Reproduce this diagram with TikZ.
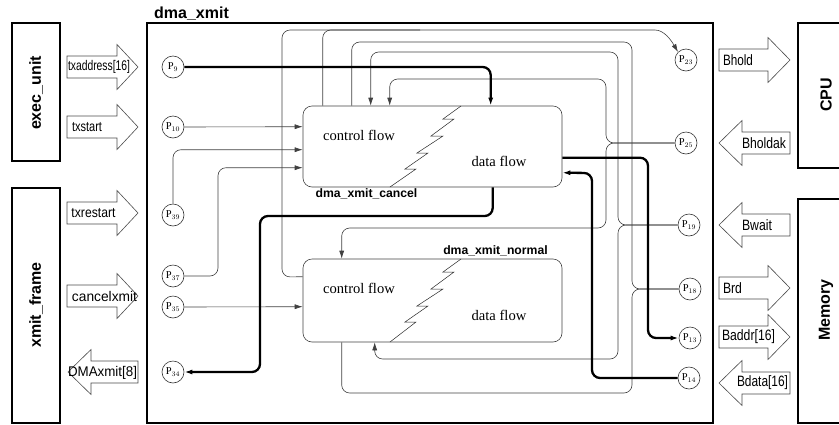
\documentclass[tikz,border=0pt]{standalone}
\usepackage{fontspec}
\setmainfont{Liberation Serif}
\setsansfont{Liberation Sans}
\usetikzlibrary{arrows.meta}
\newcommand{\fitw}[2]{\resizebox{#1pt}{\height}{#2}}
\newcommand{\rblk}[4]{\draw[blk] (#1,#4-11) -- (#2,#4-11) -- (#2,#4-22.5) -- (#3,#4) -- (#2,#4+22.5) -- (#2,#4+11) -- (#1,#4+11) -- cycle;}
\newcommand{\lblk}[4]{\draw[blk] (#3,#4-11) -- (#2,#4-11) -- (#2,#4-22.5) -- (#1,#4) -- (#2,#4+22.5) -- (#2,#4+11) -- (#3,#4+11) -- cycle;}
\newcommand{\zig}[2]{\draw[zz] (461,#1) -- (443,#1+13) -- (454,#1+13) -- (431,#1+30) -- (443,#1+30) -- (417,#1+47) -- (428,#1+47) -- (405,#1+63) -- (416,#1+63) -- (390,#2);}
\begin{document}
\begin{tikzpicture}[x=1pt,y=-1pt,
  frame/.style={draw=black, line width=1.1pt},
  blk/.style={draw=black!70, line width=0.6pt, fill=white},
  zz/.style={draw=black!85, line width=0.5pt},
  inbox/.style={draw=black!75, line width=0.6pt, rounded corners=9pt, minimum width=259pt, minimum height=81pt, inner sep=0pt},
  port/.style={circle, draw=black!80, line width=0.6pt, minimum size=22pt, inner sep=0pt, font=\fontsize{10.5}{10.5}\selectfont},
  conn/.style={draw=black!75, line width=0.6pt, rounded corners=8pt},
  bus/.style={draw=black, line width=2.3pt, rounded corners=8pt},
  tip/.style={-{Latex[length=8pt,width=5pt]}},
  ttl/.style={font=\sffamily\bfseries\fontsize{16}{16}\selectfont, inner sep=0pt},
  sub/.style={font=\sffamily\bfseries\fontsize{12.2}{12.2}\selectfont, inner sep=0pt},
  sig/.style={font=\sffamily\fontsize{14}{14}\selectfont, inner sep=0pt},
  sigr/.style={font=\sffamily\fontsize{15}{15}\selectfont, inner sep=0pt},
  flow/.style={font=\fontsize{14.6}{14.6}\selectfont, inner sep=0pt}]
\useasboundingbox (0,0) rectangle (839,424);
\clip (0,0) rectangle (839,424);

% outer frames
\draw[frame] (12,23) rectangle (60,161);
\draw[frame] (12,188) rectangle (60,423);
\draw[frame] (147,23) rectangle (713,423);
\draw[frame] (798,23) rectangle (850,168);
\draw[frame] (798,199) rectangle (850,423);
\node[ttl, rotate=90] (lexec) at (36,93) {exec\_unit};
\node[ttl, rotate=90] (lxmit) at (36,305) {xmit\_frame};
\node[ttl, rotate=90] (lcpu) at (826,95) {CPU};
\node[ttl, rotate=90] (lmem) at (826,310) {Memory};
\node[ttl] (ldma) at (191.5,14) {dma\_xmit};

% block arrows, left
\rblk{67}{117}{138}{67}
\rblk{67}{117}{138}{127}
\rblk{67}{117}{138}{213}
\rblk{67}{117}{138}{296}
\lblk{68}{91}{138}{372}
\node[sig] (s1) at (99,67) {\fitw{62}{txaddress[16]}};
\node[sig] (s2) at (87,127) {\fitw{30}{txstart}};
\node[sig] (s3) at (93.5,213) {\fitw{44}{txrestart}};
\node[sig] (s4) at (104.5,296) {\fitw{65}{cancelxmit}};
\node[sig] (s5) at (102.5,373) {\fitw{69}{DMAxmit[8]}};

% block arrows, right
\rblk{719}{768}{790}{60}
\lblk{719}{742}{790}{143}
\lblk{719}{742}{790}{225}
\rblk{719}{768}{790}{288}
\rblk{719}{768}{790}{337}
\lblk{719}{742}{790}{383}
\node[sigr] (r1) at (738,60) {\fitw{30}{Bhold}};
\node[sigr] (r2) at (764,143) {\fitw{44}{Bholdak}};
\node[sigr] (r3) at (757,225) {\fitw{30}{Bwait}};
\node[sigr] (r4) at (732.5,288) {\fitw{19}{Brd}};
\node[sigr] (r5) at (748.5,337) {\fitw{53}{Baddr[16]}};
\node[sigr] (r6) at (762.5,383) {\fitw{51}{Bdata[16]}};

% inner blocks
\node[inbox] (cancel) at (432.5,146.5) {};
\node[inbox, minimum height=83pt] (normal) at (432.5,300.5) {};
\zig{106}{187}
\zig{259}{342}
\node[flow] (cf1) at (359,135) {control flow};
\node[flow] (df1) at (499,161) {data flow};
\node[flow] (cf2) at (359,288) {control flow};
\node[flow] (df2) at (499,315) {data flow};
\node[sub] (lcan) at (366.5,194) {dma\_xmit\_cancel};
\node[sub] (lnor) at (495.5,251) {dma\_xmit\_normal};

% ports
\node[port] (p9) at (173,67) {$\mathrm{P}_{9}$};
\node[port] (p10) at (173,127) {$\mathrm{P}_{10}$};
\node[port] (p39) at (173,215) {$\mathrm{P}_{39}$};
\node[port] (p37) at (173,276) {$\mathrm{P}_{37}$};
\node[port] (p35) at (173,307) {$\mathrm{P}_{35}$};
\node[port] (p34) at (173,372) {$\mathrm{P}_{34}$};
\node[port] (p23) at (686,60) {$\mathrm{P}_{23}$};
\node[port] (p25) at (686,143) {$\mathrm{P}_{25}$};
\node[port] (p19) at (689,225) {$\mathrm{P}_{19}$};
\node[port] (p18) at (690,289) {$\mathrm{P}_{18}$};
\node[port] (p13) at (690,338) {$\mathrm{P}_{13}$};
\node[port] (p14) at (689,378) {$\mathrm{P}_{14}$};

% connectors
\draw[conn, tip] (p10.east) -- ([yshift=-21pt]cancel.north west);
\draw[conn, tip] (p39.north) |- ([yshift=-44pt]cancel.north west);
\draw[conn, tip] (p37.east) -- (218,276) |- ([yshift=-62pt]cancel.north west);
\draw[conn, tip] (p35.east) -- ([yshift=-48pt]normal.north west);
\draw[conn, tip] ([yshift=-18pt]normal.north west) -- (282,277) |- (647,30) .. controls (664,30) and (671,40) .. (p23.north west);
\draw[conn] ([xshift=20pt]cancel.north west) |- (420,30);
\draw[conn] ([xshift=49pt]cancel.north west) |- (632,42) |- (p18.west);
\draw[conn] ([xshift=39pt]normal.south west) |- (632,393) |- (p18.west);
\draw[conn, tip] (p19.west) -| (618,52) -| ([xshift=68pt]cancel.north west);
\draw[conn, tip] (p19.west) -| (618,359) -| ([xshift=72pt]normal.south west);
\draw[conn, tip] (p25.west) -| (606,79) -| ([xshift=87pt]cancel.north west);
\draw[conn, tip] (p25.west) -| (606,228) -| ([xshift=39pt]normal.north west);
\draw[bus, tip] (p9.east) -| ([xshift=188pt]cancel.north west);
\draw[bus, tip] ([xshift=190pt]cancel.south west) |- (260,216) |- (p34.east);
\draw[bus, tip] ([yshift=-52pt]cancel.north east) -| (648,338) -- (p13.west);
\draw[bus, tip] (p14.west) -| (592,173) -- ([yshift=-67pt]cancel.north east);
\end{tikzpicture}
\end{document}
